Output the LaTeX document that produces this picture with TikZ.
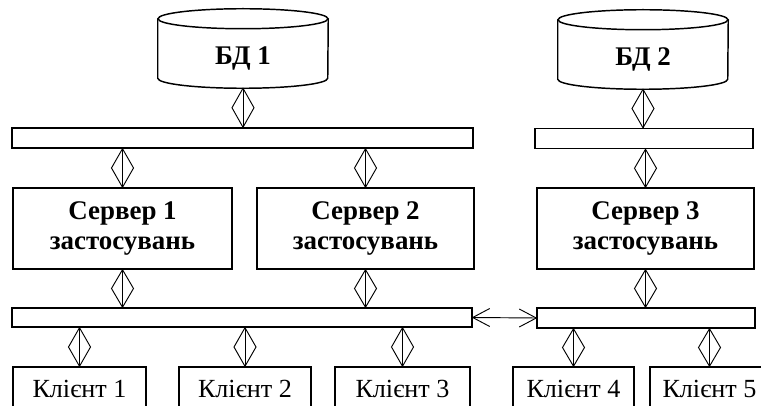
\documentclass[tikz,border=0pt]{standalone}
\usepackage{fontspec}
\setmainfont{Liberation Serif}
\usetikzlibrary{calc}

% diamond link between two points
\newcommand{\dlink}[2]{%
    \path (#1) coordinate (lnk_a) (#2) coordinate (lnk_b);
    \draw[link] (lnk_a) -- (lnk_b);
    \draw[link] (lnk_a) -- ($(lnk_a)!0.5!(lnk_b)+(11,0)$) -- (lnk_b)
        -- ($(lnk_a)!0.5!(lnk_b)+(-11,0)$) -- cycle;
}

\begin{document}
\begin{tikzpicture}[x=0.75pt, y=-0.75pt,
        box/.style={draw, line width=1.1pt, inner sep=0pt},
        link/.style={line width=0.7pt, line join=miter},
        boldtxt/.style={font=\fontsize{20.2}{22.5}\selectfont\bfseries, align=center},
        clienttxt/.style={font=\fontsize{19.6}{22}\selectfont}]
    \useasboundingbox (0,0) rectangle (761,406);
    \clip (0,0) rectangle (761,406);

    % databases
    \node[boldtxt, minimum width=127.5pt, minimum height=44.25pt] (db1) at (243,58.5) {БД 1};
    \node[boldtxt, minimum width=127.5pt, minimum height=44.25pt] (db2) at (643,59.5) {БД 2};
    \foreach \d in {db1,db2} {
        \draw[line width=1.1pt] ($(\d.north west)+(0,-10)$) -- ($(\d.south west)+(0,-10)$)
            arc[start angle=180, end angle=360, x radius=63.75pt, y radius=7.5pt]
            -- ($(\d.north east)+(0,-10)$);
        \draw[line width=1.1pt] ($(\d.north)+(0,-10)$) ellipse [x radius=63.75pt, y radius=7.5pt];
    }

    % bars
    \node[box, minimum width=345.75pt, minimum height=15pt] (bar1) at (242.5,138) {};
    \node[box, minimum width=163.5pt, minimum height=15pt] (bar2) at (644,138.5) {};
    \node[box, minimum width=345pt, minimum height=14.25pt] (bar3) at (242,317.5) {};
    \node[box, minimum width=163.5pt, minimum height=15pt] (bar4) at (646,318) {};

    % servers
    \node[box, boldtxt, minimum width=164pt, minimum height=60.75pt] (srv1) at (122.5,228.5) {Сервер 1\\застосувань};
    \node[box, boldtxt, minimum width=163pt, minimum height=60.75pt] (srv2) at (365.5,228.5) {Сервер 2\\застосувань};
    \node[box, boldtxt, minimum width=163pt, minimum height=60.75pt] (srv3) at (645.5,228.5) {Сервер 3\\застосувань};

    % clients
    \node[box, clienttxt, minimum width=99.75pt, minimum height=33pt] (cl1) at (79.5,389) {Клієнт 1};
    \node[box, clienttxt, minimum width=99pt, minimum height=33pt] (cl2) at (245,389) {Клієнт 2};
    \node[box, clienttxt, minimum width=101.25pt, minimum height=33pt] (cl3) at (402.5,389) {Клієнт 3};
    \node[box, clienttxt, minimum width=90.75pt, minimum height=33pt] (cl4) at (573.5,389) {Клієнт 4};
    \node[box, clienttxt, minimum width=89.25pt, minimum height=33pt] (cl5) at (709.5,389) {Клієнт 5};

    %% connection
    \dlink{db1.south}{db1.south |- bar1.north}
    \dlink{db2.south}{db2.south |- bar2.north}
    \dlink{srv1.north |- bar1.south}{srv1.north}
    \dlink{srv2.north |- bar1.south}{srv2.north}
    \dlink{srv3.north |- bar2.south}{srv3.north}
    \dlink{srv1.south}{srv1.south |- bar3.north}
    \dlink{srv2.south}{srv2.south |- bar3.north}
    \dlink{srv3.south}{srv3.south |- bar4.north}
    \foreach \c in {cl1,cl2,cl3} {
        \dlink{\c.north |- bar3.south}{\c.north}
    }
    \foreach \c in {cl4,cl5} {
        \dlink{\c.north |- bar4.south}{\c.north}
    }
    % bar to bar, open barbs at both ends
    \draw[link] (bar3.east) -- (bar4.west);
    \draw[link] ($(bar3.east)+(17,-9)$) -- (bar3.east) -- ($(bar3.east)+(17,9)$);
    \draw[link] ($(bar4.west)+(-17,-9)$) -- (bar4.west) -- ($(bar4.west)+(-17,9)$);
\end{tikzpicture}
\end{document}
